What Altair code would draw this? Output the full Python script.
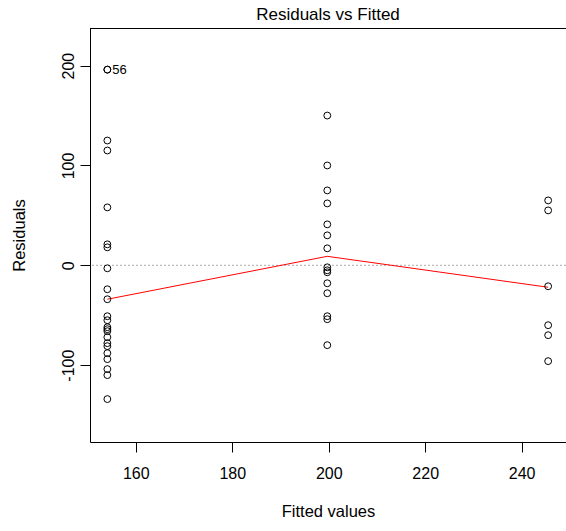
import altair as alt
import pandas as pd

# ---- data ----
fitted_groups = [154.1, 199.7, 245.5]
res_g1 = [196, 196, 125, 115, 58, 21, 18, -3, -24, -34, -51, -55, -62, -64, -66,
          -72, -78, -81, -88, -94, -104, -110, -134]
res_g2 = [150, 100, 75, 62, 41, 30, 17, -2, -5, -7, -18, -28, -51, -54, -80]
res_g3 = [65, 55, -21, -60, -70, -96]
smooth_x = [154.1, 199.7, 245.5]
smooth_y = [-34, 9, -22]
label_text = ["56"]
label_x = [154.1]
label_y = [196]
x_ticks = [160, 180, 200, 220, 240]
y_ticks = [-100, 0, 100, 200]
x_domain = [150.5, 249.2]
y_domain = [-177, 237.7]

rows = []
for fx, res in zip(fitted_groups, [res_g1, res_g2, res_g3]):
    for r in res:
        rows.append({"fitted": fx, "resid": r})
pts = pd.DataFrame(rows)
smooth = pd.DataFrame({"fitted": smooth_x, "resid": smooth_y})
labels = pd.DataFrame({"fitted": label_x, "resid": label_y, "lab": label_text})
zero = pd.DataFrame({"resid": [0]})

W, H = 476, 414
FONT = "Liberation Sans"

xscale = alt.Scale(domain=x_domain, nice=False, zero=False)
yscale = alt.Scale(domain=y_domain, nice=False, zero=False)

xaxis = alt.Axis(values=x_ticks, title="Fitted values", tickSize=10, labelPadding=13,
                 titlePadding=22, grid=False, labelFlush=False,
                 labelFont=FONT, titleFont=FONT, labelFontSize=16, titleFontSize=16.5,
                 titleFontWeight="normal")
yaxis = alt.Axis(values=y_ticks, title="Residuals", tickSize=10, labelPadding=4,
                 labelAngle=270, labelAlign="center", labelBaseline="bottom",
                 labelExpr="'' + datum.value",
                 titlePadding=33, grid=False,
                 labelFont=FONT, titleFont=FONT, labelFontSize=16, titleFontSize=16.5,
                 titleFontWeight="normal")

base = alt.Chart(pts)

points = base.mark_point(shape="circle", filled=False, color="black",
                         size=47, strokeWidth=1, opacity=1).encode(
    x=alt.X("fitted:Q", scale=xscale, axis=xaxis),
    y=alt.Y("resid:Q", scale=yscale, axis=yaxis),
)

zero_line = alt.Chart(zero).mark_rule(color="#aaaaaa", strokeDash=[2, 2],
                                      strokeWidth=1).encode(
    y=alt.Y("resid:Q", scale=yscale)
)

line = alt.Chart(smooth).mark_line(color="red", strokeWidth=1).encode(
    x=alt.X("fitted:Q", scale=xscale),
    y=alt.Y("resid:Q", scale=yscale),
)

text = alt.Chart(labels).mark_text(align="left", baseline="middle", dx=5,
                                   font=FONT, fontSize=13, color="black").encode(
    x=alt.X("fitted:Q", scale=xscale),
    y=alt.Y("resid:Q", scale=yscale),
    text="lab:N",
)

top_border = alt.Chart(zero).mark_rule(color="black", strokeWidth=1).encode(
    x=alt.value(0), x2=alt.value(W + 2), y=alt.value(0.5)
)

chart = alt.layer(zero_line, line, points, text, top_border).properties(
    width=W, height=H,
    title=alt.TitleParams("Residuals vs Fitted", font=FONT, fontSize=17,
                          fontWeight="normal", anchor="middle", offset=4,
                          color="black"),
    padding={"left": 90, "top": 28, "right": 0, "bottom": 89},
    autosize="none",
    background="white",
).configure_view(stroke=None).configure_axis(
    labelColor="black", titleColor="black",
    domainColor="black", tickColor="black", domainWidth=1, tickWidth=1,
)

chart.save("out.html", embed_options={"renderer": "svg", "actions": False})
